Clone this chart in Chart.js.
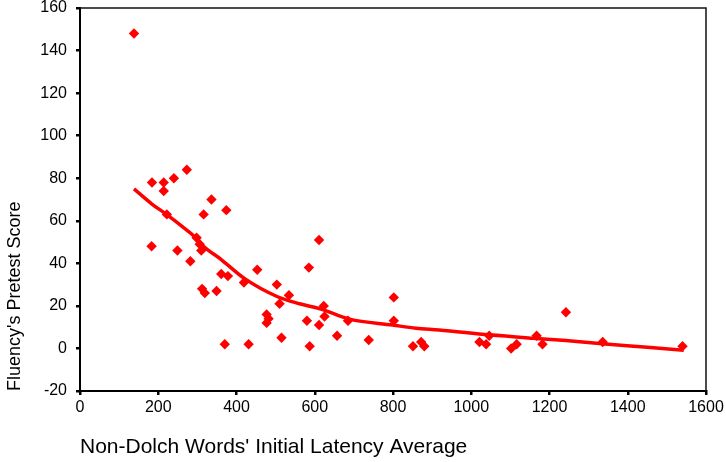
<!DOCTYPE html>
<html><head><meta charset="utf-8">
<script src="https://cdn.jsdelivr.net/npm/chart.js@4/dist/chart.umd.min.js"></script>
<style>html,body{margin:0;padding:0;background:#fff}</style>
</head><body>
<canvas id="c" width="726" height="462"></canvas>
<script>
// Scatter data: Non-Dolch words' initial latency average (x) vs fluency pretest score (y)
const latencyX = [138,184,214,214,240,273,222,336,374,316,298,306,310,183,249,282,453,585,361,378,419,312,319,349,503,534,510,623,625,580,611,657,587,515,370,431,611,685,802,802,738,851,872,880,1021,1038,1046,1102,1116,1167,1182,1242,1336,1540,477,482,477];
const fluencyY = [148,78,78,74,80,84,63,70,65,63,52,49,46,48,46,41,37,38,35,34,31,28,26,27,30,25,21,20,15,13,11,6,1,5,2,2,51,13,24,13,4,1,3,1,3,2,6,0,2,6,2,17,3,1,16,14,12];
// Fitted (smoothed) curve
const fitX = [138,183,221,260,298,314,361,421,505,561,616,689,799,859,918,1046,1157,1242,1335,1450,1543];
const fitY = [75,68,63,57.5,51.7,48.3,41.8,32.8,24.3,21,18.5,13.8,11,9.5,8.7,6.4,4.8,3.7,2.2,0.6,-0.8];
// Axis ticks and titles
const xTicks = [0,200,400,600,800,1000,1200,1400,1600];
const yTicks = [-20,0,20,40,60,80,100,120,140,160];
const xTitle = "Non-Dolch Words' Initial Latency Average";
const yTitle = "Fluency's Pretest Score";

const FONT = "'Liberation Sans', Arial, sans-serif";

const frame = {
  id: 'frame',
  afterDatasetsDraw(chart) {
    const {ctx, chartArea: a} = chart;
    ctx.save();
    ctx.strokeStyle = '#111';
    ctx.lineWidth = 1.5;
    ctx.beginPath();
    ctx.moveTo(a.left, a.top);
    ctx.lineTo(a.right, a.top);
    ctx.lineTo(a.right, a.bottom);
    ctx.stroke();
    ctx.restore();
  }
};

new Chart(document.getElementById('c'), {
  type: 'scatter',
  data: {
    datasets: [
      {
        label: 'Observed',
        data: latencyX.map((x, i) => ({x, y: fluencyY[i]})),
        pointStyle: 'rectRot',
        pointRadius: 5.2,
        pointHoverRadius: 5.2,
        backgroundColor: '#ff0000',
        borderColor: '#ff0000',
        borderWidth: 0,
        order: 1
      },
      {
        label: 'Fit',
        type: 'line',
        data: fitX.map((x, i) => ({x, y: fitY[i]})),
        borderColor: '#ff0000',
        borderWidth: 3.5,
        pointRadius: 0,
        cubicInterpolationMode: 'monotone',
        fill: false,
        order: 0
      }
    ]
  },
  options: {
    responsive: false,
    animation: false,
    devicePixelRatio: 1,
    layout: {padding: {top: 8, right: 20, left: 0, bottom: 0}},
    plugins: {legend: {display: false}, tooltip: {enabled: false}},
    scales: {
      x: {
        type: 'linear',
        min: 0, max: 1600,
        afterBuildTicks: s => { s.ticks = xTicks.map(v => ({value: v})); },
        afterFit: s => { s.height = 71; s.paddingLeft = 0; s.paddingRight = 0; },
        grid: {drawOnChartArea: false, color: '#000', lineWidth: 2.5, tickLength: 4},
        border: {display: true, color: '#000', width: 2},
        ticks: {color: '#000', padding: 3, font: {family: FONT, size: 16}, maxRotation: 0, autoSkip: false,
                callback: v => String(v)},
        title: {display: true, text: xTitle, align: 'start', color: '#000',
                font: {family: FONT, size: 21}, padding: {top: 0, bottom: 2}}
      },
      y: {
        type: 'linear',
        min: -20, max: 160,
        afterBuildTicks: s => { s.ticks = yTicks.map(v => ({value: v})); },
        afterFit: s => { s.width = 80; s.paddingTop = 0; s.paddingBottom = 0; },
        grid: {drawOnChartArea: false, color: '#000', lineWidth: 2.5, tickLength: 4},
        border: {display: true, color: '#000', width: 2},
        ticks: {color: '#000', padding: 9, font: {family: FONT, size: 16}, autoSkip: false,
                callback: v => String(v)},
        title: {display: true, text: yTitle, align: 'start', color: '#000',
                font: {family: FONT, size: 18}, padding: {top: 4, bottom: 0}}
      }
    }
  },
  plugins: [frame]
});
</script>
</body></html>
